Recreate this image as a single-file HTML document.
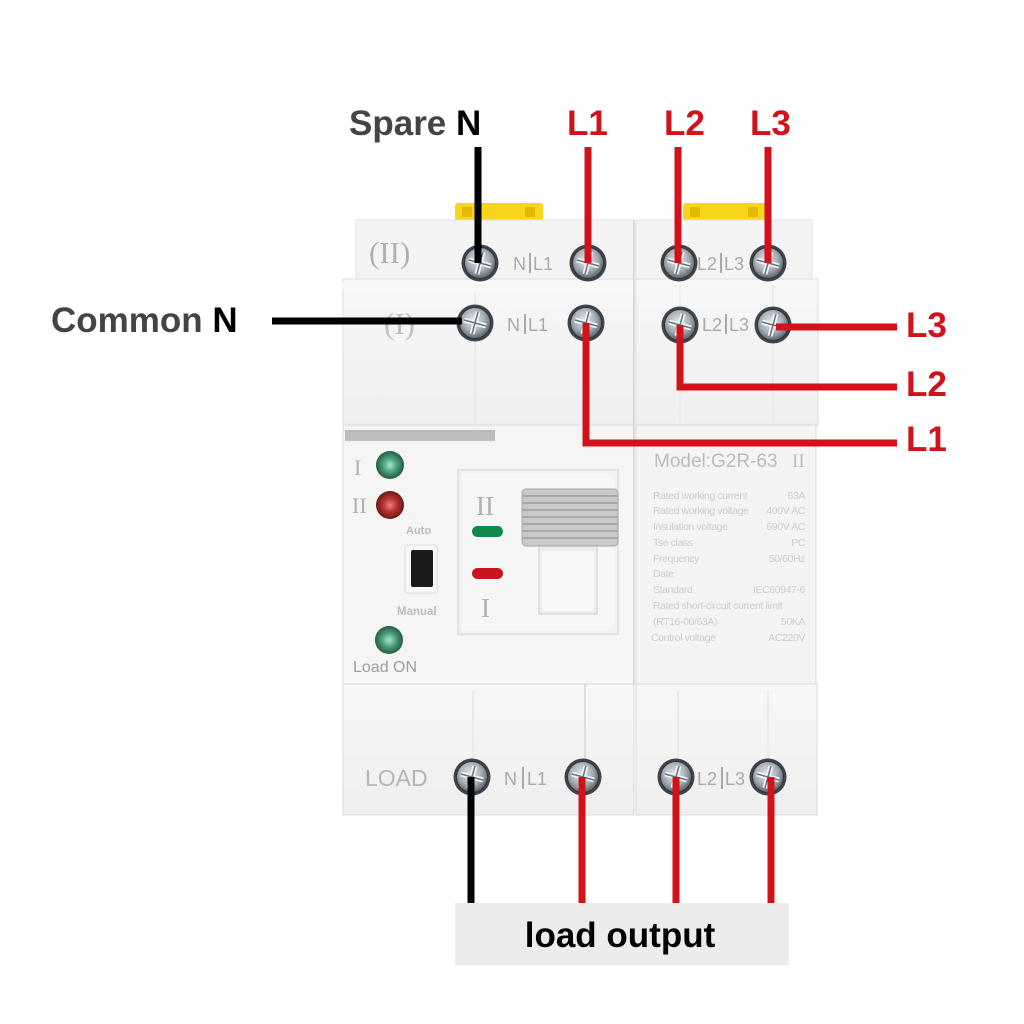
<!DOCTYPE html>
<html><head><meta charset="utf-8"><style>
html,body{margin:0;padding:0;background:#fff;}
svg{display:block;}
.lbl{font-family:"Liberation Sans",Arial,sans-serif;font-weight:bold;}
.dev{font-family:"Liberation Sans",Arial,sans-serif;fill:#a9a9a9;}
.ser{font-family:"Liberation Serif","Times New Roman",serif;fill:#b0b0b0;}
.spec{font-family:"Liberation Sans",Arial,sans-serif;fill:#cdcdcd;font-size:10.5px;letter-spacing:-0.4px;}
</style></head><body>
<svg width="1024" height="1024" viewBox="0 0 1024 1024" xmlns="http://www.w3.org/2000/svg">
<defs>
<radialGradient id="silv" cx="45%" cy="40%" r="60%">
<stop offset="0" stop-color="#e4e8ec"/><stop offset="0.6" stop-color="#a7afb6"/><stop offset="1" stop-color="#5d656c"/>
</radialGradient>
<radialGradient id="gled" cx="50%" cy="50%" r="55%">
<stop offset="0" stop-color="#a8e8cc"/><stop offset="0.45" stop-color="#4aa27a"/><stop offset="1" stop-color="#1f4d36"/>
</radialGradient>
<radialGradient id="rled" cx="50%" cy="50%" r="55%">
<stop offset="0" stop-color="#f08080"/><stop offset="0.45" stop-color="#b8322e"/><stop offset="1" stop-color="#5a1412"/>
</radialGradient>
<linearGradient id="body" x1="0" y1="0" x2="0" y2="1">
<stop offset="0" stop-color="#f7f7f7"/><stop offset="1" stop-color="#efefef"/>
</linearGradient>
<g id="screw">
<circle r="18.5" fill="#3e444a"/>
<circle r="15.5" fill="url(#silv)"/>
<path d="M-11,-3 L11,3 M-3,11 L3,-11" stroke="#f2f5f7" stroke-width="5"/>
<path d="M-11,-3 L11,3 M-3,11 L3,-11" stroke="#6b737a" stroke-width="1.5"/>
<circle r="15.5" fill="none" stroke="#2f3438" stroke-width="1"/>
</g>
</defs>

<!-- yellow clips -->
<rect x="455" y="203" width="88" height="20" rx="3" fill="#f6d51c"/>
<rect x="683" y="203" width="84" height="20" rx="3" fill="#f6d51c"/>
<rect x="462" y="207" width="10" height="10" fill="#e6b800"/>
<rect x="525" y="207" width="10" height="10" fill="#e6b800"/>
<rect x="690" y="207" width="10" height="10" fill="#e6b800"/>
<rect x="748" y="207" width="10" height="10" fill="#e6b800"/>

<!-- top module (II) -->
<rect x="356" y="220" width="278" height="64" fill="#f4f4f4" stroke="#e2e2e2"/>
<rect x="636" y="220" width="176" height="64" fill="#f4f4f4" stroke="#e2e2e2"/>

<!-- module (I) -->
<rect x="343" y="279" width="291" height="147" fill="url(#body)" stroke="#dedede"/>
<rect x="636" y="279" width="182" height="147" fill="url(#body)" stroke="#dedede"/>
<line x1="475" y1="285" x2="475" y2="425" stroke="#e0e0e0"/>
<line x1="589" y1="345" x2="589" y2="425" stroke="#e6e6e6"/>
<line x1="680" y1="285" x2="680" y2="425" stroke="#e3e3e3"/>
<line x1="773" y1="285" x2="773" y2="425" stroke="#e3e3e3"/>
<rect x="343" y="282" width="291" height="10" fill="#f8f8f8"/>

<!-- middle module -->
<rect x="343" y="425" width="291" height="260" fill="#f5f5f5" stroke="#dadada"/>
<rect x="636" y="425" width="180" height="260" fill="#f4f4f4" stroke="#dadada"/>
<line x1="634" y1="220" x2="634" y2="815" stroke="#b9b9b9" stroke-width="1"/>
<rect x="345" y="430" width="150" height="11" fill="#bdbdbd"/>

<!-- bottom LOAD module -->
<rect x="343" y="684" width="291" height="131" fill="url(#body)" stroke="#dadada"/>
<rect x="636" y="684" width="181" height="131" fill="url(#body)" stroke="#dadada"/>
<line x1="473" y1="690" x2="473" y2="815" stroke="#e0e0e0"/>
<line x1="585" y1="684" x2="585" y2="760" stroke="#bbbbbb" stroke-width="0.8"/>
<line x1="678" y1="690" x2="678" y2="815" stroke="#e0e0e0"/>
<line x1="768" y1="690" x2="768" y2="815" stroke="#e0e0e0"/>

<!-- device labels -->
<text class="ser" x="369" y="263" font-size="31">(II)</text>
<text class="dev" x="513" y="270" font-size="18">N</text>
<rect x="529" y="253" width="2" height="20" fill="#a9a9a9"/>
<text class="dev" x="533" y="270" font-size="18">L1</text>
<text class="dev" x="697" y="270" font-size="18">L2</text>
<rect x="720" y="253" width="2" height="20" fill="#a9a9a9"/>
<text class="dev" x="724" y="270" font-size="18">L3</text>

<text class="ser" x="384" y="334" font-size="31" style="fill:#c0c0c0">(I)</text>
<text class="dev" x="507" y="331" font-size="18">N</text>
<rect x="524" y="314" width="2" height="20" fill="#a9a9a9"/>
<text class="dev" x="528" y="331" font-size="18">L1</text>
<text class="dev" x="702" y="331" font-size="18">L2</text>
<rect x="725" y="314" width="2" height="20" fill="#a9a9a9"/>
<text class="dev" x="729" y="331" font-size="18">L3</text>

<text class="dev" x="365" y="786" font-size="23" style="fill:#b5b5b5">LOAD</text>
<text class="dev" x="504" y="785" font-size="18">N</text>
<rect x="522" y="767" width="2" height="22" fill="#a9a9a9"/>
<text class="dev" x="527" y="785" font-size="18">L1</text>
<text class="dev" x="697" y="785" font-size="18">L2</text>
<rect x="721" y="767" width="2" height="22" fill="#a9a9a9"/>
<text class="dev" x="725" y="785" font-size="18">L3</text>

<!-- left control panel -->
<text class="ser" x="354" y="475" font-size="22">I</text>
<circle cx="390" cy="465" r="14" fill="url(#gled)"/>
<text class="ser" x="352" y="513" font-size="22">II</text>
<circle cx="390" cy="505" r="14" fill="url(#rled)"/>
<text class="dev" x="406" y="534" font-size="11" font-weight="bold" style="fill:#bdbdbd">Auto</text>
<rect x="405" y="545" width="32" height="48" rx="2" fill="#f7f7f7" stroke="#dcdcdc"/>
<rect x="411" y="550" width="22" height="37" rx="2" fill="#1b1b1b"/>
<text class="dev" x="397" y="615" font-size="11.5" font-weight="bold" style="fill:#bdbdbd">Manual</text>
<circle cx="389" cy="640" r="14" fill="url(#gled)"/>
<text class="dev" x="353" y="672" font-size="16" style="fill:#9d9d9d">Load ON</text>

<!-- inner panel -->
<rect x="458" y="470" width="160" height="164" fill="#f1f1f1" stroke="#dcdcdc" stroke-width="1.5"/>
<rect x="462" y="474" width="152" height="156" fill="#f6f6f6"/>
<text class="ser" x="476" y="515" font-size="27">II</text>
<rect x="472" y="526" width="31" height="11" rx="5.5" fill="#0f8a4a"/>
<rect x="472" y="568" width="31" height="11" rx="5.5" fill="#c8141c"/>
<text class="ser" x="481" y="617" font-size="27">I</text>
<rect x="539" y="545" width="58" height="69" fill="#ececec" stroke="#cfcfcf"/>
<rect x="542" y="551" width="52" height="60" fill="#f8f8f8"/>
<rect x="522" y="489" width="96" height="57" rx="4" fill="#c9c9c9"/>
<g stroke="#9c9c9c" stroke-width="1.5">
<line x1="522" y1="496" x2="618" y2="496"/><line x1="522" y1="503" x2="618" y2="503"/>
<line x1="522" y1="510" x2="618" y2="510"/><line x1="522" y1="517" x2="618" y2="517"/>
<line x1="522" y1="524" x2="618" y2="524"/><line x1="522" y1="531" x2="618" y2="531"/>
<line x1="522" y1="538" x2="618" y2="538"/>
</g>
<rect x="522" y="489" width="96" height="57" rx="4" fill="none" stroke="#a8a8a8"/>

<!-- right spec panel -->
<text class="dev" x="654" y="467" font-size="19" style="fill:#bcbcbc">Model:G2R-63</text>
<text class="ser" x="792" y="467" font-size="19" style="fill:#bcbcbc">II</text>
<g class="spec">
<text x="653" y="499">Rated working current</text><text x="805" y="499" text-anchor="end">63A</text>
<text x="653" y="514">Rated working voltage</text><text x="805" y="514" text-anchor="end">400V AC</text>
<text x="653" y="530">Insulation voltage</text><text x="805" y="530" text-anchor="end">690V AC</text>
<text x="653" y="546">Tse class</text><text x="805" y="546" text-anchor="end">PC</text>
<text x="653" y="562">Frequency</text><text x="805" y="562" text-anchor="end">50/60Hz</text>
<text x="653" y="577">Date</text>
<text x="653" y="593">Standard</text><text x="805" y="593" text-anchor="end">IEC60947-6</text>
<text x="653" y="609">Rated short-circuit current limit</text>
<text x="653" y="625">(RT16-00/63A)</text><text x="805" y="625" text-anchor="end">50KA</text>
<text x="651" y="641">Control voltage</text><text x="805" y="641" text-anchor="end">AC220V</text>
</g>

<!-- screws -->
<use href="#screw" x="480" y="263"/>
<use href="#screw" x="588" y="263"/>
<use href="#screw" x="679" y="263"/>
<use href="#screw" x="768" y="263"/>
<use href="#screw" x="475" y="323"/>
<use href="#screw" x="586" y="323"/>
<use href="#screw" x="680" y="325"/>
<use href="#screw" x="773" y="325"/>
<use href="#screw" x="472" y="777"/>
<use href="#screw" x="583" y="777"/>
<use href="#screw" x="676" y="777"/>
<use href="#screw" x="768" y="777"/>

<!-- wires (drawn over screws, ending at screw centre) -->
<g stroke-linecap="butt" fill="none" stroke-width="7">
<line x1="478" y1="147" x2="478" y2="263" stroke="#000"/>
<line x1="588" y1="147" x2="588" y2="263" stroke="#d3111b"/>
<line x1="678" y1="147" x2="678" y2="263" stroke="#d3111b"/>
<line x1="768" y1="147" x2="768" y2="263" stroke="#d3111b"/>
<line x1="272" y1="321" x2="462" y2="321" stroke="#000"/>
<polyline points="586,323 586,443 897,443" stroke="#d3111b"/>
<polyline points="680,325 680,387 897,387" stroke="#d3111b"/>
<line x1="776" y1="327" x2="897" y2="327" stroke="#d3111b"/>
<line x1="471" y1="777" x2="471" y2="904" stroke="#000"/>
<line x1="582" y1="777" x2="582" y2="904" stroke="#d3111b"/>
<line x1="676" y1="777" x2="676" y2="904" stroke="#d3111b"/>
<line x1="771" y1="777" x2="771" y2="904" stroke="#d3111b"/>
</g>

<!-- annotations -->
<text class="lbl" x="349" y="135" font-size="35" fill="#444">Spare <tspan fill="#000">N</tspan></text>
<text class="lbl" x="567" y="135" font-size="35" fill="#d0121b">L1</text>
<text class="lbl" x="664" y="135" font-size="35" fill="#d0121b">L2</text>
<text class="lbl" x="750" y="135" font-size="35" fill="#d0121b">L3</text>
<text class="lbl" x="51" y="332" font-size="35" fill="#444">Common <tspan fill="#000">N</tspan></text>
<text class="lbl" x="906" y="337" font-size="35" fill="#d0121b">L3</text>
<text class="lbl" x="906" y="396" font-size="35" fill="#d0121b">L2</text>
<text class="lbl" x="906" y="451" font-size="35" fill="#d0121b">L1</text>

<!-- load output -->
<rect x="455" y="903" width="334" height="62" fill="#ececec"/>
<text class="lbl" x="620" y="947" font-size="35" fill="#000" text-anchor="middle">load output</text>
</svg>
</body></html>
